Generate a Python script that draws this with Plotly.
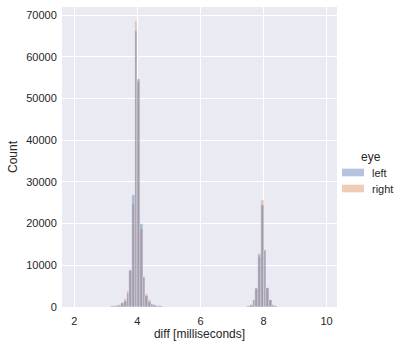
import plotly.graph_objects as go

# ---- data ----
BIN_W = 0.085
# bins around 4 ms: offset k means bin [4 + k*w, 4 + (k+1)*w]
offsets_4 = [-10, -9, -8, -7, -6, -5, -4, -3, -2, -1, 0, 1, 2, 3, 4, 5, 6, 7, 8]
left_4 = [150, 200, 350, 550, 900, 1400, 3400, 8800, 26800, 66200, 54600, 20000, 7100, 2600, 1300, 650, 400, 250, 150]
right_4 = [150, 200, 400, 600, 1000, 1800, 3800, 8700, 24800, 68600, 54000, 18600, 7100, 3000, 1700, 700, 400, 250, 150]
# bins around 8 ms
offsets_8 = [-6, -5, -4, -3, -2, -1, 0, 1, 2, 3, 4]
left_8 = [170, 570, 1600, 4500, 12700, 24400, 13700, 4650, 1600, 570, 170]
right_8 = [170, 570, 1600, 4400, 12000, 25600, 13500, 4600, 1600, 570, 170]

centers = [4 + (k + 0.5) * BIN_W for k in offsets_4] + [8 + (k + 0.5) * BIN_W for k in offsets_8]
left = left_4 + left_8
right = right_4 + right_8

x_ticks = [2, 4, 6, 8, 10]
y_ticks = [0, 10000, 20000, 30000, 40000, 50000, 60000, 70000]

BLUE = "rgb(76,114,176)"
ORANGE = "rgb(221,132,82)"
TXT = "#262626"
FONT = "Liberation Sans, Arial, sans-serif"
ALPHA = 0.42

fig = go.Figure()
# right drawn first, left on top (seaborn layers first hue on top)
fig.add_trace(go.Bar(x=centers, y=right, width=BIN_W, name="right",
                     marker=dict(color=ORANGE, line=dict(color="white", width=0.3)),
                     opacity=ALPHA, showlegend=False))
fig.add_trace(go.Bar(x=centers, y=left, width=BIN_W, name="left",
                     marker=dict(color=BLUE, line=dict(color="white", width=0.3)),
                     opacity=ALPHA, showlegend=False))

W, H = 417, 348
ml, mr, mt, mb = 62, 80, 7, 41

fig.update_layout(
    width=W, height=H,
    margin=dict(l=ml, r=mr, t=mt, b=mb, pad=0),
    barmode="overlay", bargap=0,
    paper_bgcolor="white", plot_bgcolor="#EAEAF2",
    font=dict(family=FONT, size=11, color=TXT),
    showlegend=False,
)
fig.update_xaxes(range=[1.61, 10.33], tickvals=x_ticks, ticktext=[str(v) for v in x_ticks],
                 showgrid=True, gridcolor="white", gridwidth=1, zeroline=False,
                 showline=False, ticks="outside", ticklen=4, tickcolor="rgba(0,0,0,0)",
                 title=dict(text="diff [milliseconds]", font=dict(size=12), standoff=3))
fig.update_yaxes(range=[0, 71920], tickvals=y_ticks, ticktext=[str(v) for v in y_ticks],
                 showgrid=True, gridcolor="white", gridwidth=1, zeroline=False,
                 showline=False, ticks="outside", ticklen=2, tickcolor="rgba(0,0,0,0)",
                 title=dict(text="Count", font=dict(size=12), standoff=6))

# legend drawn manually (wide patches like matplotlib)
def px(xp):
    return (xp - ml) / (W - ml - mr)

def py(yp):
    return 1 - (yp - mt) / (H - mt - mb)

fig.add_annotation(x=px(371), y=py(157), xref="paper", yref="paper", text="eye",
                   showarrow=False, xanchor="center", yanchor="middle", font=dict(size=12))
for name, col, yc in [("left", BLUE, 172.5), ("right", ORANGE, 188.5)]:
    fig.add_shape(type="rect", xref="paper", yref="paper",
                  x0=px(342), x1=px(364), y0=py(yc - 3.8), y1=py(yc + 3.8),
                  fillcolor=col, opacity=ALPHA, line=dict(width=0))
    fig.add_annotation(x=px(370), y=py(yc), xref="paper", yref="paper", text=name,
                       showarrow=False, xanchor="left", yanchor="middle", font=dict(size=11))

fig.write_html("out.html")
